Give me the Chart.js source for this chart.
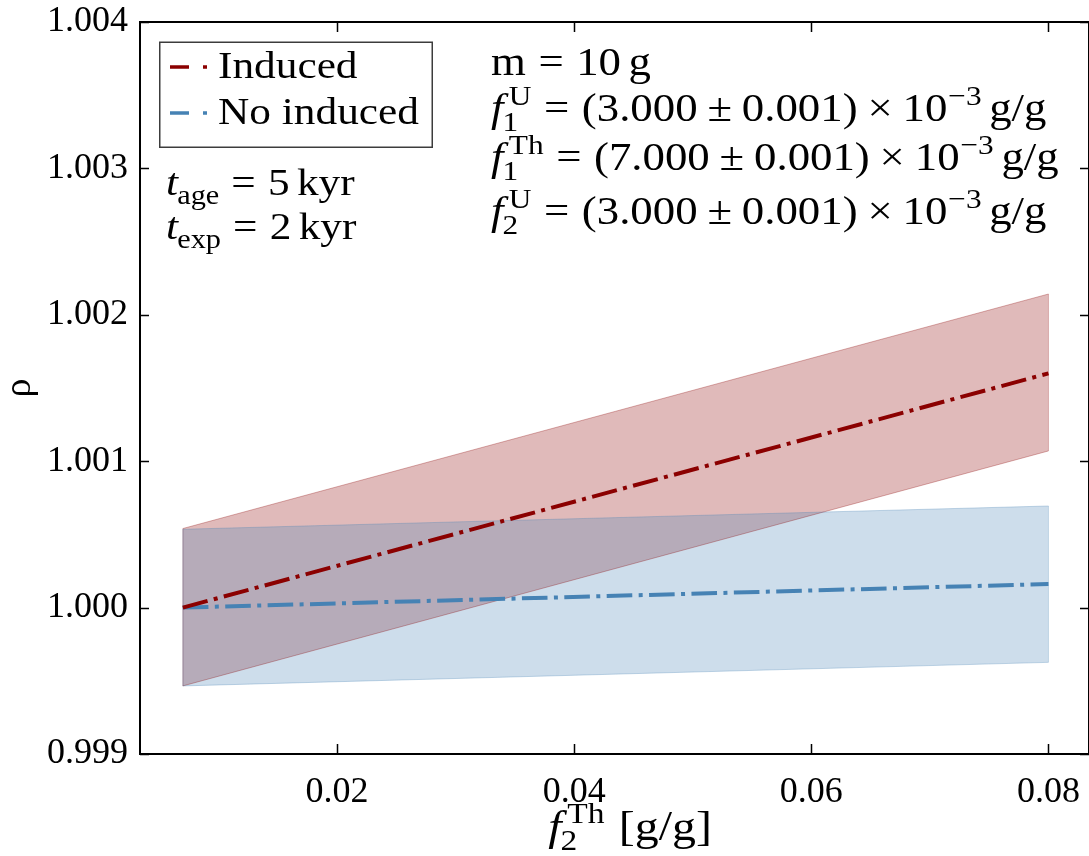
<!DOCTYPE html>
<html>
<head>
<meta charset="utf-8">
<script src="https://cdn.jsdelivr.net/npm/chart.js@4.4.1/dist/chart.umd.min.js"></script>
<style>
  html, body { margin: 0; padding: 0; background: #ffffff; overflow: hidden; }
  #wrap { width: 1089px; height: 856px; }
</style>
</head>
<body>
<div id="wrap"><canvas id="c" width="1089" height="856"></canvas></div>
<script>
// f_2^Th values where rho was evaluated
const fTh2 = [0.007, 0.08];

// rho with induced fission contribution: central value and band edges
const rhoInduced     = [1.000000, 1.001600];
const rhoInducedLow  = [0.999465, 1.001070];
const rhoInducedHigh = [1.000540, 1.002142];

// rho without induced contribution
const rhoNoInduced     = [1.000000, 1.000161];
const rhoNoInducedLow  = [0.999465, 0.999626];
const rhoNoInducedHigh = [1.000535, 1.000694];

// axis ticks
const xTicks = [0.02, 0.04, 0.06, 0.08];
const yTicks = [0.999, 1.000, 1.001, 1.002, 1.003, 1.004];
const xTickLabels = ['0.02', '0.04', '0.06', '0.08'];
const yTickLabels = ['0.999', '1.000', '1.001', '1.002', '1.003', '1.004'];

const seriesNames = ['Induced', 'No induced'];

const RED = '#8b0000';
const BLUE = '#4682b4';
const RED_FILL = 'rgba(139,0,0,0.27)';
const BLUE_FILL = 'rgba(70,130,180,0.27)';
const RED_EDGE = 'rgba(139,0,0,0.30)';
const BLUE_EDGE = 'rgba(70,130,180,0.30)';
const DASHDOT = [25.6, 6.4, 4, 6.4];
const SERIF = '"Liberation Serif", "Times New Roman", serif';

const pts = ys => fTh2.map((x, i) => ({ x: x, y: ys[i] }));

// ---- small rich-text helper for math-style labels ----
const R = t => ({ t: t, it: false });
const I = t => ({ t: t, it: true });
const S = em => ({ sp: em });
const ST = (sup, sub) => ({ sup: sup, sub: sub });
const SU = sup => ({ sup: sup, plain: true });

function drawRich(ctx, x, y, parts, size, hs, align) {
  const font = (it, s) => (it ? 'italic ' : '') + s + 'px ' + SERIF;
  let w = 0;
  const layout = [];
  for (const p of parts) {
    if (p.sp !== undefined) { w += p.sp * size; continue; }
    if (p.t !== undefined) {
      ctx.font = font(p.it, size);
      const mw = ctx.measureText(p.t).width;
      layout.push({ kind: 't', p: p, x: w });
      w += mw;
      continue;
    }
    const ss = size * 0.7;
    ctx.font = font(false, ss);
    const supShift = p.plain ? 0.02 * size : 0.12 * size;
    const subShift = p.plain ? 0 : -0.02 * size;
    const ws = p.sup ? ctx.measureText(p.sup).width + supShift : 0;
    const wb = p.sub ? ctx.measureText(p.sub).width + subShift : 0;
    layout.push({ kind: 's', p: p, x: w, ss: ss, supShift: supShift, subShift: subShift });
    w += Math.max(ws, wb);
  }
  ctx.save();
  ctx.translate(x - (align === 'center' ? w * hs / 2 : 0), y);
  ctx.scale(hs, 1);
  ctx.fillStyle = '#000';
  ctx.textBaseline = 'alphabetic';
  ctx.textAlign = 'left';
  for (const L of layout) {
    if (L.kind === 't') {
      ctx.font = font(L.p.it, size);
      ctx.fillText(L.p.t, L.x, 0);
    } else {
      ctx.font = font(false, L.ss);
      if (L.p.sup) ctx.fillText(L.p.sup, L.x + L.supShift, -size * 0.40);
      if (L.p.sub) ctx.fillText(L.p.sub, L.x + L.subShift, size * 0.24);
    }
  }
  ctx.restore();
}

const TEXT_SIZE = 38;
const HS = 1.14;
const NOTE_SIZE = 40;
const NOTE_HS = 1.12;

const leftNotes = [
  { y: 195, parts: [I('t'), ST(null, 'age'), S(0.28), R('='), S(0.28), R('5'), S(0.17), R('kyr')] },
  { y: 239, parts: [I('t'), ST(null, 'exp'), S(0.28), R('='), S(0.28), R('2'), S(0.17), R('kyr')] }
];
const rightNotes = [
  { y: 75, parts: [R('m'), S(0.28), R('='), S(0.28), R('10'), S(0.17), R('g')] },
  { y: 121, parts: [I('f'), ST('U', '1'), S(0.28), R('='), S(0.28), R('(3.000'), S(0.22), R('±'), S(0.22), R('0.001)'), S(0.22), R('×'), S(0.22), R('10'), SU('−3'), S(0.17), R('g/g')] },
  { y: 170, parts: [I('f'), ST('Th', '1'), S(0.28), R('='), S(0.28), R('(7.000'), S(0.22), R('±'), S(0.22), R('0.001)'), S(0.22), R('×'), S(0.22), R('10'), SU('−3'), S(0.17), R('g/g')] },
  { y: 224, parts: [I('f'), ST('U', '2'), S(0.28), R('='), S(0.28), R('(3.000'), S(0.22), R('±'), S(0.22), R('0.001)'), S(0.22), R('×'), S(0.22), R('10'), SU('−3'), S(0.17), R('g/g')] }
];
const xTitle = [I('f'), ST('Th', '2'), S(0.3), R('[g/g]')];

// frame, inward ticks, band side edges, legend and text annotations
const decorations = {
  id: 'decorations',
  beforeDatasetsDraw(chart) {
    const ctx = chart.ctx;
    const xs = chart.scales.x, ys = chart.scales.y;
    const bands = [[rhoInducedLow, rhoInducedHigh, RED_EDGE], [rhoNoInducedLow, rhoNoInducedHigh, BLUE_EDGE]];
    ctx.save();
    ctx.lineWidth = 1;
    for (const [lo, hi, col] of bands) {
      ctx.strokeStyle = col;
      for (const i of [0, fTh2.length - 1]) {
        const px = xs.getPixelForValue(fTh2[i]);
        ctx.beginPath();
        ctx.moveTo(px, ys.getPixelForValue(lo[i]));
        ctx.lineTo(px, ys.getPixelForValue(hi[i]));
        ctx.stroke();
      }
    }
    ctx.restore();
  },
  afterDraw(chart) {
    const ctx = chart.ctx;
    const a = chart.chartArea;
    const xs = chart.scales.x, ys = chart.scales.y;
    ctx.save();
    // frame
    ctx.strokeStyle = '#000';
    ctx.lineWidth = 2;
    ctx.strokeRect(a.left, a.top, a.right - a.left, a.bottom - a.top);
    // inward ticks on all four sides
    ctx.lineWidth = 1.5;
    ctx.beginPath();
    for (const v of xTicks) {
      const px = Math.round(xs.getPixelForValue(v)) + 0.5;
      ctx.moveTo(px, a.bottom); ctx.lineTo(px, a.bottom - 10);
      ctx.moveTo(px, a.top); ctx.lineTo(px, a.top + 10);
    }
    for (const v of yTicks) {
      const py = Math.round(ys.getPixelForValue(v)) + 0.5;
      ctx.moveTo(a.left, py); ctx.lineTo(a.left + 9, py);
      ctx.moveTo(a.right, py); ctx.lineTo(a.right - 9, py);
    }
    ctx.stroke();

    // legend
    ctx.fillStyle = '#fff';
    ctx.fillRect(160, 42, 272, 105);
    ctx.strokeStyle = '#3c3c3c';
    ctx.lineWidth = 1.5;
    ctx.strokeRect(159.75, 42.25, 272.5, 105);
    const legendRows = [
      { name: seriesNames[0], color: RED, y: 67 },
      { name: seriesNames[1], color: BLUE, y: 113 }
    ];
    for (const row of legendRows) {
      ctx.strokeStyle = row.color;
      ctx.lineWidth = 3.5;
      ctx.lineCap = 'butt';
      ctx.beginPath();
      ctx.moveTo(170, row.y); ctx.lineTo(189, row.y);
      ctx.moveTo(203, row.y); ctx.lineTo(207, row.y);
      ctx.stroke();
      drawRich(ctx, 218, row.y + 11, [R(row.name)], TEXT_SIZE, HS);
    }

    // annotations
    for (const n of leftNotes) drawRich(ctx, 166, n.y, n.parts, TEXT_SIZE, HS);
    for (const n of rightNotes) drawRich(ctx, 491, n.y, n.parts, NOTE_SIZE, NOTE_HS);

    // axis titles
    drawRich(ctx, 630, 840, xTitle, 42, 1.14, 'center');
    ctx.save();
    ctx.translate(30, 388);
    ctx.rotate(-Math.PI / 2);
    ctx.font = '38px ' + SERIF;
    ctx.fillStyle = '#000';
    ctx.textAlign = 'center';
    ctx.textBaseline = 'alphabetic';
    ctx.fillText('ρ', 0, 0);
    ctx.restore();
    ctx.restore();
  }
};

const line = (label, ys, color, order) => ({
  label: label, data: pts(ys), borderColor: color, borderWidth: 4,
  borderDash: DASHDOT, borderCapStyle: 'butt', pointRadius: 0,
  fill: false, tension: 0, order: order
});
const edge = (ys, color, fillCol, order, target) => ({
  data: pts(ys), borderColor: color, borderWidth: 1, pointRadius: 0,
  backgroundColor: fillCol, fill: target, tension: 0, order: order
});

new Chart(document.getElementById('c'), {
  type: 'line',
  data: {
    datasets: [
      line(seriesNames[0], rhoInduced, RED, 0),
      line(seriesNames[1], rhoNoInduced, BLUE, 1),
      edge(rhoNoInducedLow, BLUE_EDGE, BLUE_FILL, 2, false),
      edge(rhoNoInducedHigh, BLUE_EDGE, BLUE_FILL, 3, 2),
      edge(rhoInducedLow, RED_EDGE, RED_FILL, 4, false),
      edge(rhoInducedHigh, RED_EDGE, RED_FILL, 5, 4)
    ]
  },
  options: {
    responsive: false,
    animation: false,
    events: [],
    layout: { padding: { left: 0, right: 0, top: 22, bottom: 0 } },
    plugins: {
      legend: { display: false },
      tooltip: { enabled: false },
      filler: { drawTime: 'beforeDatasetsDraw' }
    },
    scales: {
      x: {
        type: 'linear',
        min: 0.003387,
        max: 0.08342,
        afterBuildTicks: s => { s.ticks = xTicks.map(v => ({ value: v })); },
        afterFit: s => { s.height = 102; s.paddingLeft = 0; s.paddingRight = 0; },
        grid: { display: false, drawTicks: false },
        border: { display: false },
        ticks: {
          padding: 17,
          color: '#000',
          font: { family: SERIF, size: 36 },
          maxRotation: 0,
          callback: v => xTickLabels[xTicks.findIndex(t => Math.abs(t - v) < 1e-9)]
        }
      },
      y: {
        type: 'linear',
        min: 0.999,
        max: 1.004,
        afterBuildTicks: s => { s.ticks = yTicks.map(v => ({ value: v })); },
        afterFit: s => { s.width = 140; s.paddingTop = 0; s.paddingBottom = 0; },
        grid: { display: false, drawTicks: false },
        border: { display: false },
        ticks: {
          padding: 12,
          color: '#000',
          font: { family: SERIF, size: 36 },
          callback: v => yTickLabels[yTicks.findIndex(t => Math.abs(t - v) < 1e-9)]
        }
      }
    }
  },
  plugins: [decorations]
});
</script>
</body>
</html>
